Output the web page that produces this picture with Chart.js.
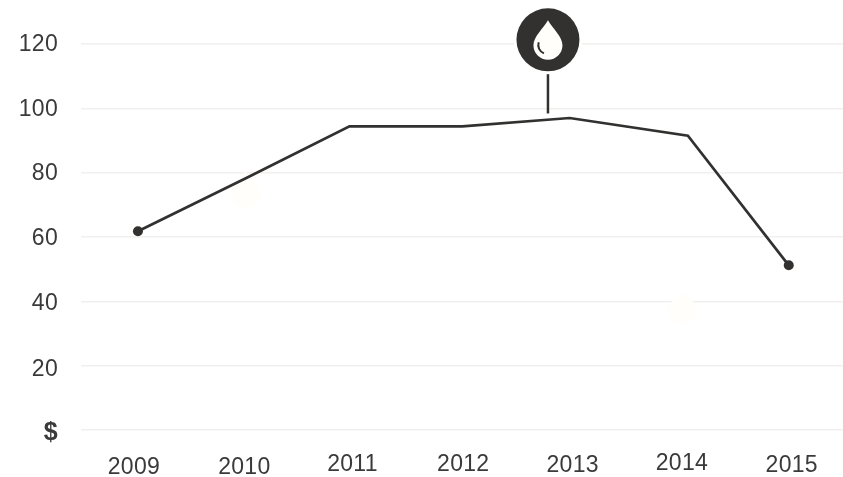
<!DOCTYPE html>
<html>
<head>
<meta charset="utf-8">
<title>Price per year</title>
<script src="https://cdn.jsdelivr.net/npm/chart.js@4/dist/chart.umd.min.js"></script>
<style>
  html, body { margin: 0; padding: 0; background: #fff; }
  canvas { display: block; }
</style>
</head>
<body>
<canvas id="priceChart" width="843" height="477"></canvas>
<script>
  'use strict';

  // Chart data
  const years = ['2009', '2010', '2011', '2012', '2013', '2014', '2015'];
  const yearPositions = [2009, 2009.99, 2010.95, 2011.99, 2012.98, 2014.07, 2015];
  const prices = [61.8, 78.2, 94.4, 94.4, 97, 91.5, 51.2];
  const valueTicks = [0, 20, 40, 60, 80, 100, 120];
  const valueLabels = ['$', '20', '40', '60', '80', '100', '120'];

  // Colors
  const ink = '#323130';
  const textColor = '#3a3a3a';
  const gridColor = '#f1f0ef';
  const dropColor = '#fffefb';

  const labelFont = '23px "Liberation Sans", sans-serif';
  const boldFont = 'bold 25px "Liberation Sans", sans-serif';

  // Hand-placed label nudges, in pixels
  const yearNudgeX = [-4, -1, 3, 1, 3, -6, 3];
  const yearNudgeY = [2.5, 2.5, 0, 0, 0.5, -1.5, 0.5];
  const valueNudgeY = [3, 4, 2, 1.5, 1, 1.5, 0.5];

  // Teardrop shape: pointed on top, round at the bottom
  function dropPath(ctx, cx, top, width, height) {
    const r = width / 2;
    const bellyY = top + height - r;
    ctx.beginPath();
    ctx.moveTo(cx, top);
    ctx.bezierCurveTo(cx + r * 0.3, top + height * 0.2, cx + r, bellyY - r * 0.6, cx + r, bellyY);
    ctx.arc(cx, bellyY, r, 0, Math.PI);
    ctx.bezierCurveTo(cx - r, bellyY - r * 0.6, cx - r * 0.3, top + height * 0.2, cx, top);
    ctx.closePath();
  }

  // Pale drops that sit behind the line
  const backgroundDrops = {
    id: 'backgroundDrops',
    beforeDatasetsDraw(chart) {
      const { ctx, scales } = chart;
      ctx.save();
      ctx.fillStyle = dropColor;
      dropPath(ctx, scales.x.getPixelForValue(2009.99), scales.y.getPixelForValue(80.5), 29, 37);
      ctx.fill();
      dropPath(ctx, scales.x.getPixelForValue(2014.02), scales.y.getPixelForValue(43), 29, 33);
      ctx.fill();
      ctx.restore();
    }
  };

  // Round badge with a drop, on a short stem above the 2013 peak
  const dropPin = {
    id: 'dropPin',
    afterDatasetsDraw(chart) {
      const { ctx, scales } = chart;
      const x = scales.x.getPixelForValue(2012.78);
      const cy = scales.y.getPixelForValue(121.3);
      const r = 31.5;
      ctx.save();

      ctx.strokeStyle = ink;
      ctx.lineWidth = 2.5;
      ctx.beginPath();
      ctx.moveTo(x, scales.y.getPixelForValue(110.7));
      ctx.lineTo(x, scales.y.getPixelForValue(98.4));
      ctx.stroke();

      ctx.fillStyle = '#fff';
      ctx.beginPath();
      ctx.arc(x, cy, r + 3, 0, Math.PI * 2);
      ctx.fill();
      ctx.fillStyle = ink;
      ctx.beginPath();
      ctx.arc(x, cy, r, 0, Math.PI * 2);
      ctx.fill();

      ctx.fillStyle = dropColor;
      dropPath(ctx, x, cy - 19.5, 29, 39.5);
      ctx.fill();

      // small highlight curve inside the drop
      ctx.strokeStyle = ink;
      ctx.lineWidth = 2;
      ctx.beginPath();
      ctx.arc(x - 0.7, cy + 5.2, 9, Math.PI * 0.62, Math.PI * 1.1);
      ctx.stroke();

      ctx.restore();
    }
  };

  // Tick labels, each drawn at its tick with its own nudge
  const axisLabels = {
    id: 'axisLabels',
    afterDraw(chart) {
      const { ctx, scales } = chart;
      ctx.save();
      ctx.fillStyle = textColor;
      ctx.textBaseline = 'middle';
      ctx.letterSpacing = '0.3px';

      ctx.textAlign = 'center';
      ctx.font = labelFont;
      years.forEach((year, i) => {
        ctx.fillText(year, scales.x.getPixelForValue(yearPositions[i]) + yearNudgeX[i], 465 + yearNudgeY[i]);
      });

      ctx.textAlign = 'right';
      valueLabels.forEach((label, i) => {
        ctx.font = label === '$' ? boldFont : labelFont;
        ctx.fillText(label, 58, scales.y.getPixelForValue(valueTicks[i]) + valueNudgeY[i]);
      });

      ctx.restore();
    }
  };

  const ctx = document.getElementById('priceChart').getContext('2d');
  new Chart(ctx, {
    type: 'line',
    data: {
      datasets: [{
        label: 'Price',
        data: yearPositions.map((x, i) => ({ x: x, y: prices[i] })),
        borderColor: ink,
        backgroundColor: ink,
        borderWidth: 2.7,
        tension: 0,
        pointRadius: yearPositions.map((x, i) => (i === 0 || i === yearPositions.length - 1) ? 5 : 0),
        pointBorderWidth: 0
      }]
    },
    options: {
      responsive: false,
      animation: false,
      layout: { autoPadding: false, padding: { left: 81, top: 44, bottom: 47, right: 0 } },
      plugins: {
        legend: { display: false },
        tooltip: { enabled: false }
      },
      scales: {
        x: {
          type: 'linear',
          min: 2008.475,
          max: 2015.5,
          display: false
        },
        y: {
          min: 0,
          max: 120,
          afterFit(scale) { scale.width = 0; },
          ticks: { stepSize: 20, display: false },
          border: { display: false },
          grid: { color: gridColor, lineWidth: 1.5, drawTicks: false }
        }
      }
    },
    plugins: [backgroundDrops, dropPin, axisLabels]
  });
</script>
</body>
</html>
